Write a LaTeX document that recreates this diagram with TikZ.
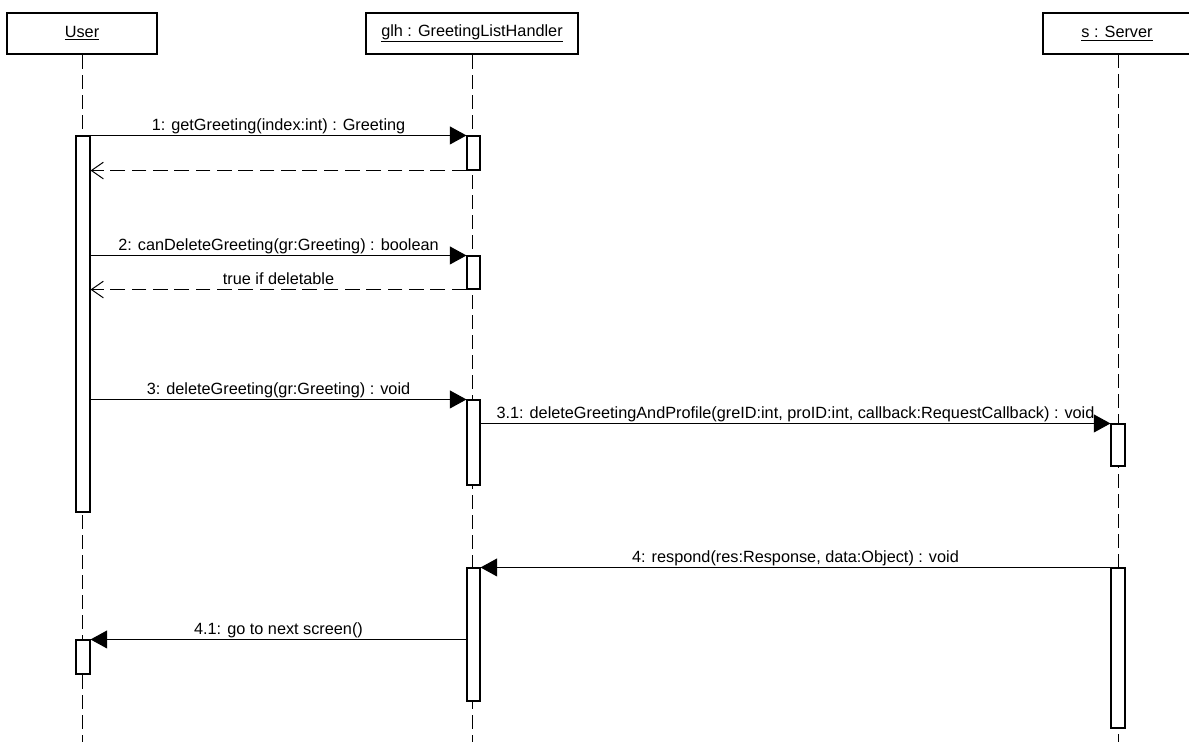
\documentclass[tikz,border=0pt]{standalone}
\usepackage{fontspec}
\setmainfont{Liberation Sans}
\usetikzlibrary{arrows.meta,fit}
\begin{document}
\begin{tikzpicture}[x=0.75pt,y=-0.75pt,
  every node/.style={font=\fontsize{12.2}{14}\selectfont},
  objbox/.style={draw, line width=1.8pt, fill=white, inner sep=0pt, minimum height=30.75pt},
  lifeline/.style={line width=0.75pt, dash pattern=on 10.5pt off 4.5pt},
  actbar/.style={draw, line width=0.8pt, fill=white, inner sep=0pt},
  callmsg/.style={line width=0.75pt, -{Triangle[length=12.5pt,width=13.5pt]}},
  retmsg/.style={line width=0.75pt, dash pattern=on 11pt off 5pt, -{Straight Barb[length=9pt,width=12.5pt]}},
  lbl/.style={midway, anchor=base, yshift=3.75pt, inner sep=0pt}
]
\fill[white] (0,0) rectangle (1189,742);
\useasboundingbox (0,0) rectangle (1189,742);
\coordinate (bottom) at (0,742);

% objects
\node[objbox, minimum width=112.5pt] (user) at (82,33.5) {\underline{User}};
\node[objbox, minimum width=159pt] (glh) at (472,33.5) {\underline{glh : GreetingListHandler}};
\node[objbox, minimum width=120pt] (srv) at (1123,33.5) {\underline{s : Server}\kern9pt};
\coordinate (srvline) at (1118,54);

% lifelines
\draw[lifeline] (user.south) -- (user.south |- bottom);
\draw[lifeline] (glh.south) -- (glh.south |- bottom);
\draw[lifeline] (srvline) -- (srvline |- bottom);

% activation bars
\node[actbar, fit={(76,136) (90,512)}] (u1) {};
\node[actbar, fit={(467,136) (480,170)}] (g1) {};
\node[actbar, fit={(467,256) (480,289)}] (g2) {};
\node[actbar, fit={(467,400) (480,485)}] (g3) {};
\node[actbar, fit={(1111,424) (1125,466)}] (s1) {};
\node[actbar, fit={(467,568) (480,701)}] (g4) {};
\node[actbar, fit={(1111,568) (1125,728)}] (s2) {};
\node[actbar, fit={(76,640) (90,674)}] (u2) {};

% messages
\draw[callmsg] (u1.north east) -- (g1.north west)
  node[lbl] {1: getGreeting(index:int) : Greeting};
\draw[retmsg] (g1.south west) -- (g1.south west -| u1.east);
\draw[callmsg] (g2.north west -| u1.east) -- (g2.north west)
  node[lbl] {2: canDeleteGreeting(gr:Greeting) : boolean};
\draw[retmsg] (g2.south west) -- (g2.south west -| u1.east)
  node[lbl] {true if deletable};
\draw[callmsg] (g3.north west -| u1.east) -- (g3.north west)
  node[lbl] {3: deleteGreeting(gr:Greeting) : void};
\draw[callmsg] (g3.east |- s1.north west) -- (s1.north west)
  node[lbl] {3.1: deleteGreetingAndProfile(greID:int, proID:int, callback:RequestCallback) : void};
\draw[callmsg] (s2.north west) -- (s2.north west -| g4.east)
  node[lbl] {4: respond(res:Response, data:Object) : void};
\draw[callmsg] (g4.west |- u2.north east) -- (u2.north east)
  node[lbl] {4.1: go to next screen()};
\end{tikzpicture}
\end{document}
